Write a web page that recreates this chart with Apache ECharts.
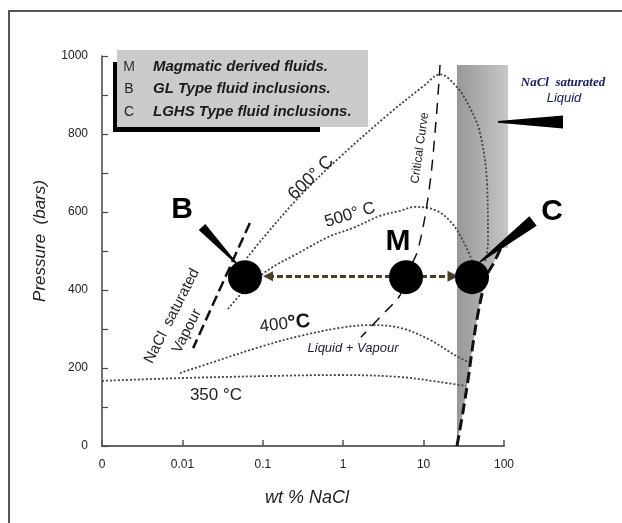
<!DOCTYPE html>
<html>
<head>
<meta charset="utf-8">
<script src="https://cdn.jsdelivr.net/npm/echarts/dist/echarts.min.js"></script>
<style>
  html, body { margin: 0; padding: 0; background: #fff; }
  #chart { width: 622px; height: 523px; }
</style>
</head>
<body>
<div id="chart"></div>
<script>
// ---------- data (wt % NaCl, pressure in bars) ----------
const xTickLabels = ['0', '0.01', '0.1', '1', '10', '100'];

const iso350 = [[0.001,167],[0.0093,174],[0.092,179],[0.91,182],[5.1,177],[16,164],[33.6,154]];
const iso400 = [[0.0093,187],[0.0294,221],[0.092,254],[0.29,282],[0.91,303],[2.15,310],[5.1,303],[12,272],[24.5,233],[37.7,213]];
const iso500 = [[0.0369,351],[0.052,387],[0.1127,449],[0.29,497],[0.686,538],[1.324,559],[2.87,590],[5.08,603],[7.81,613],[13.9,605],[21.3,577],[30.1,531],[40,477]];
const iso600 = [[0.0635,482],[0.1005,533],[0.29,641],[0.912,741],[3.82,854],[10,923],[16,953],[26,920],[37.8,867],[50.3,803],[61.5,674],[63.2,521],[58,472]];
const criticalCurve = [[16,977],[14.3,836],[11.7,656],[8.5,503],[6.4,446],[5.1,387],[2.95,333],[1.66,279]];
const vapourLine = [[0.069,572],[0.0136,251]];
const haliteLine = [[26,0],[31,90],[36,175],[41,260],[47,335],[54,395],[62,440],[73,466],[92,508]];
const bandOutline = [[26,977],[112,977],[112,508],[92,508],[73,466],[62,440],[54,395],[47,335],[41,260],[36,175],[31,90],[26,0]];
const inclusionPoints = [[0.06,433],[6.04,433],[40,433]];   // B, M, C
const migrationArrow = [[0.116,435],[23.2,435]];
// pointer wedges: [tailX, tailY, tipX, tipY]
const pointerWedges = [[0.01754,561.5,0.0465,469],[229.6,577,50.3,472],[542,831,84.1,831]];

// ---------- chart ----------
const chart = echarts.init(document.getElementById('chart'));
const SANS = "'Liberation Sans', Arial, sans-serif";
const wedgeHalfWidths = [4.5, 6, 6.5];

function txt(x, y, text, font, fill, rotDeg, extra) {
  return {
    type: 'text', x: x, y: y, z: 100,
    rotation: (rotDeg || 0) * Math.PI / 180,
    style: Object.assign({
      text: text, x: 0, y: 0, font: font, fill: fill || '#222',
      textAlign: 'center', textVerticalAlign: 'middle',
      align: 'center', verticalAlign: 'middle'
    }, extra || {})
  };
}

const dotted = { type: [2, 2], width: 1.8, color: '#444' };

const option = {
  animation: false,
  backgroundColor: '#fff',
  grid: { left: 102, right: 118, top: 56, bottom: 77 },
  xAxis: {
    type: 'log', logBase: 10, min: 0.001, max: 100,
    axisLine: { lineStyle: { color: '#666', width: 2 } },
    axisTick: { inside: true, length: 6, lineStyle: { color: '#555', width: 1.5 } },
    axisLabel: {
      margin: 13, fontSize: 12, color: '#222', fontFamily: SANS,
      formatter: function (v) { return xTickLabels[Math.round(Math.log10(v)) + 3]; }
    },
    splitLine: { show: false }
  },
  yAxis: {
    type: 'value', min: 0, max: 1000, interval: 200,
    axisLine: { show: true, lineStyle: { color: '#444', width: 1.5 } },
    axisTick: { show: true, inside: true, length: 6, lineStyle: { color: '#444', width: 1.2 } },
    minorTick: { show: true, splitNumber: 2, length: 6, lineStyle: { color: '#444', width: 1.2 } },
    axisLabel: { margin: 14, fontSize: 12, color: '#222', fontFamily: SANS,
      formatter: function (v) { return String(v); } },
    splitLine: { show: false }
  },
  series: [
    {
      type: 'custom', name: 'band', z: 1, clip: false, silent: true,
      data: [bandOutline[0]],
      renderItem: function (params, api) {
        return {
          type: 'polygon',
          shape: { points: bandOutline.map(function (p) { return api.coord(p); }) },
          style: {
            fill: new echarts.graphic.LinearGradient(0, 0, 1, 0, [
              { offset: 0, color: '#989898' }, { offset: 1, color: '#c6c6c6' }
            ])
          }
        };
      }
    },
    { type: 'line', name: '350', z: 2, data: iso350, smooth: 0.35, showSymbol: false, lineStyle: dotted },
    { type: 'line', name: '400', z: 2, data: iso400, smooth: 0.35, showSymbol: false, lineStyle: dotted },
    { type: 'line', name: '500', z: 2, data: iso500, smooth: 0.35, showSymbol: false, lineStyle: dotted },
    { type: 'line', name: '600', z: 2, data: iso600, smooth: 0.35, showSymbol: false, lineStyle: dotted },
    { type: 'line', name: 'critical', z: 3, data: criticalCurve, smooth: 0.35, showSymbol: false,
      lineStyle: { type: [11, 8], width: 1.5, color: '#111' } },
    { type: 'line', name: 'vapour', z: 3, data: vapourLine, showSymbol: false,
      lineStyle: { type: [11, 5], width: 2.5, color: '#111' } },
    { type: 'line', name: 'halite', z: 3, data: haliteLine, smooth: 0.35, showSymbol: false,
      lineStyle: { type: [11, 5], width: 3, color: '#111' } },
    {
      type: 'lines', coordinateSystem: 'cartesian2d', z: 3,
      symbol: ['triangle', 'triangle'], symbolSize: [10, 11],
      lineStyle: { type: [6, 3], width: 3, color: '#4b3f2a', opacity: 1 },
      data: [{ coords: migrationArrow }]
    },
    { type: 'scatter', name: 'inclusions', z: 4, data: inclusionPoints, symbolSize: 34,
      itemStyle: { color: '#000', opacity: 1 } },
    {
      type: 'custom', name: 'pointers', z: 5, clip: false, silent: true,
      data: pointerWedges,
      renderItem: function (params, api) {
        const a = api.coord([api.value(0), api.value(1)]);
        const b = api.coord([api.value(2), api.value(3)]);
        const dx = b[0] - a[0], dy = b[1] - a[1];
        const len = Math.hypot(dx, dy);
        const nx = -dy / len, ny = dx / len;
        const w = wedgeHalfWidths[params.dataIndex], t = 0.8;
        return {
          type: 'polygon',
          shape: { points: [
            [a[0] + nx * w, a[1] + ny * w], [b[0] + nx * t, b[1] + ny * t],
            [b[0] - nx * t, b[1] - ny * t], [a[0] - nx * w, a[1] - ny * w]
          ] },
          style: { fill: '#000' }
        };
      }
    }
  ],
  graphic: [
    { type: 'rect', z: 0, shape: { x: 9, y: 11, width: 700, height: 600 },
      style: { fill: 'none', stroke: '#555', lineWidth: 2 } },
    // legend box with shadow
    { type: 'rect', z: 50, shape: { x: 113, y: 62, width: 207, height: 70 }, style: { fill: '#000' } },
    { type: 'rect', z: 51, shape: { x: 117, y: 50, width: 251, height: 77 }, style: { fill: '#cbcbcb' } },
    txt(129, 67, 'M', '14px ' + SANS, '#333', 0),
    txt(129, 89, 'B', '14px ' + SANS, '#222', 0),
    txt(129, 112, 'C', '14px ' + SANS, '#222', 0),
    txt(153, 67, 'Magmatic derived fluids.', 'italic bold 15px ' + SANS, '#1a1a1a', 0, { textAlign: 'left', align: 'left' }),
    txt(153, 89, 'GL Type fluid inclusions.', 'italic bold 15px ' + SANS, '#1a1a1a', 0, { textAlign: 'left', align: 'left' }),
    txt(153, 112, 'LGHS Type fluid inclusions.', 'italic bold 15px ' + SANS, '#1a1a1a', 0, { textAlign: 'left', align: 'left' }),
    // point labels
    txt(182, 210, 'B', 'bold 30px ' + SANS, '#000', 0),
    txt(398, 242, 'M', 'bold 30px ' + SANS, '#000', 0),
    txt(552, 212, 'C', 'bold 30px ' + SANS, '#000', 0),
    // isotherm labels
    txt(311, 178, '600° C', '18px ' + SANS, '#222', 44),
    txt(350, 215, '500° C', '17px ' + SANS, '#222', 17),
    txt(285, 324, '{a|400}{b|°C}', '17px ' + SANS, '#222', 7,
      { rich: { a: { fontSize: 17, fontFamily: SANS, fill: '#222' }, b: { fontSize: 20, fontWeight: 'bold', fontFamily: SANS, fill: '#111' } } }),
    txt(216, 395, '350 °C', '17px ' + SANS, '#222', 0),
    txt(420, 148, 'Critical Curve', '12px ' + SANS, '#222', 82),
    txt(353, 348, 'Liquid + Vapour', 'italic 13px ' + SANS, '#20203a', 0),
    txt(172, 316, 'NaCl  saturated', '15px ' + SANS, '#222', 63),
    txt(187, 331, 'Vapour', '15px ' + SANS, '#222', 63),
    txt(563, 83, 'NaCl  saturated', "italic bold 13px 'Liberation Serif', 'Times New Roman', serif", '#1c2060', 0),
    txt(564, 98, 'Liquid', 'italic 13px ' + SANS, '#1c2060', 0),
    // axis titles
    txt(40, 241, 'Pressure  (bars)', 'italic 17px ' + SANS, '#222', 90),
    txt(307, 498, 'wt % NaCl', 'italic 18px ' + SANS, '#222', 0)
  ]
};
chart.setOption(option);
</script>
</body>
</html>
